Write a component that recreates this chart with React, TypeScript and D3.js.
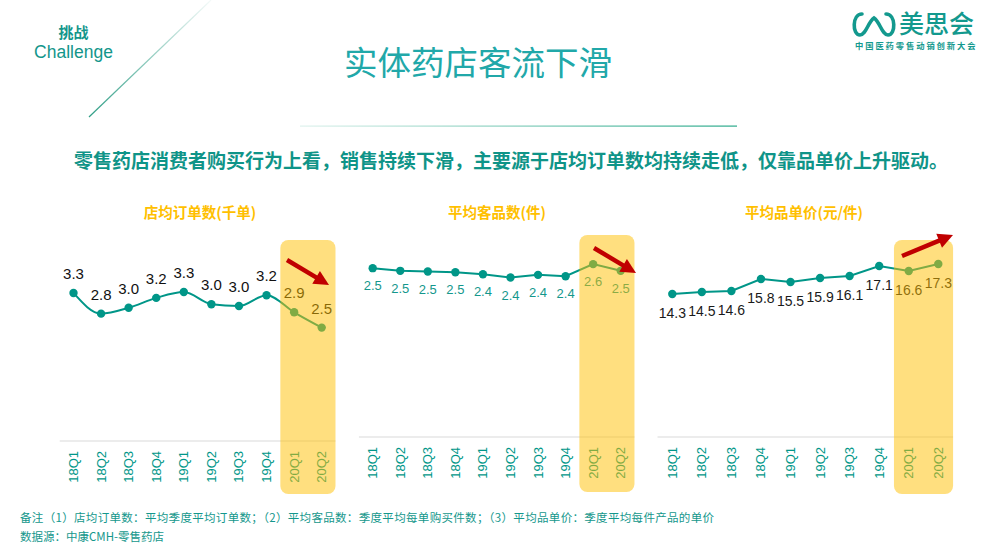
import React from 'react'
import * as d3 from 'd3'

const quarters = ['18Q1', '18Q2', '18Q3', '18Q4', '19Q1', '19Q2', '19Q3', '19Q4', '20Q1', '20Q2']
const highlighted = ['20Q1', '20Q2']

// 店均订单数(千单)
const ordersPerStore = [3.29, 2.83, 2.96, 3.18, 3.31, 3.04, 3.0, 3.24, 2.86, 2.52]
// 平均客品数(件)
const itemsPerOrder = [2.52, 2.48, 2.47, 2.46, 2.43, 2.38, 2.42, 2.4, 2.58, 2.48]
// 平均品单价(元/件)
const unitPrice = [14.3, 14.5, 14.6, 15.8, 15.5, 15.9, 16.1, 17.1, 16.6, 17.3]

const chartTitles = ['店均订单数(千单)', '平均客品数(件)', '平均品单价(元/件)']

const TEAL = '#009688'
const GOLD = '#FFC000'
const RED = '#C00000'
const LATIN = '"Liberation Sans", Arial, "Noto Sans CJK SC", sans-serif'
const CJK = '"Noto Sans CJK SC", "Liberation Sans", sans-serif'

interface PanelProps {
  title: string
  values: number[]
  xRange: [number, number]
  yDomain: [number, number]
  yRange: [number, number]
  titleX: number
  labelDy: number
  labelSize: number
  labelColor: string
  smooth: boolean
  boxTop: number
  boxBottom: number
  arrow: [number, number, number, number]
}

const Arrow = ({ arrow }: { arrow: [number, number, number, number] }) => {
  const [x1, y1, x2, y2] = arrow
  const ang = Math.atan2(y2 - y1, x2 - x1)
  const head = 15
  const half = 7.5
  const bx = x2 - head * Math.cos(ang)
  const by = y2 - head * Math.sin(ang)
  const px = -Math.sin(ang) * half
  const py = Math.cos(ang) * half
  return (
    <g>
      <line x1={x1} y1={y1} x2={bx + 2 * Math.cos(ang)} y2={by + 2 * Math.sin(ang)} stroke={RED} strokeWidth={4.5} />
      <polygon points={`${x2},${y2} ${bx + px},${by + py} ${bx - px},${by - py}`} fill={RED} />
    </g>
  )
}

const Panel = (p: PanelProps) => {
  const x = d3.scalePoint<string>().domain(quarters).range(p.xRange)
  const y = d3.scaleLinear().domain(p.yDomain).range(p.yRange)
  const step = x.step()
  const axisY = p.yRange[0]
  const line = d3
    .line<number>()
    .x((_, i) => x(quarters[i]) as number)
    .y((d) => y(d))
    .curve(p.smooth ? d3.curveMonotoneX : d3.curveLinear)

  const boxX0 = (x(highlighted[0]) as number) - step / 2
  const boxX1 = (x(highlighted[highlighted.length - 1]) as number) + step / 2

  return (
    <g>
      <text x={p.titleX} y={218} textAnchor="middle" fontFamily={CJK} fontWeight={700} fontSize={14.5} fill={GOLD}>
        {p.title}
      </text>
      <line x1={p.xRange[0] - step / 2} x2={boxX1} y1={axisY} y2={axisY} stroke="#d9d9d9" strokeWidth={1} />
      {quarters.map((q) => (
        <text
          key={q}
          transform={`translate(${(x(q) as number) + 4.5},${axisY + 10}) rotate(-90)`}
          textAnchor="end"
          fontFamily={LATIN}
          fontSize={13}
          fill={TEAL}
        >
          {q}
        </text>
      ))}
      <path d={line(p.values) || ''} fill="none" stroke={TEAL} strokeWidth={2} />
      {p.values.map((v, i) => (
        <circle key={i} cx={x(quarters[i])} cy={y(v)} r={4.2} fill={TEAL} />
      ))}
      {p.values.map((v, i) => (
        <text
          key={'l' + i}
          x={x(quarters[i])}
          y={y(v) + p.labelDy}
          textAnchor="middle"
          fontFamily={LATIN}
          fontSize={p.labelSize}
          fill={p.labelColor}
        >
          {v.toFixed(1)}
        </text>
      ))}
      <rect
        x={boxX0}
        y={p.boxTop}
        width={boxX1 - boxX0}
        height={p.boxBottom - p.boxTop}
        rx={8}
        fill={GOLD}
        fillOpacity={0.5}
      />
      <Arrow arrow={p.arrow} />
    </g>
  )
}

const panels: PanelProps[] = [
  {
    title: chartTitles[0],
    values: ordersPerStore,
    xRange: [73.5, 321.7],
    yDomain: [0, 4],
    yRange: [441, 261],
    titleX: 200,
    labelDy: -14,
    labelSize: 15,
    labelColor: '#111',
    smooth: true,
    boxTop: 240,
    boxBottom: 494,
    arrow: [287, 260, 329, 285],
  },
  {
    title: chartTitles[1],
    values: itemsPerOrder,
    xRange: [372.7, 620.7],
    yDomain: [0, 3],
    yRange: [437, 236],
    titleX: 497,
    labelDy: 22,
    labelSize: 13,
    labelColor: '#14978c',
    smooth: false,
    boxTop: 235,
    boxBottom: 492,
    arrow: [594, 248, 636, 273],
  },
  {
    title: chartTitles[2],
    values: unitPrice,
    xRange: [672.3, 938.3],
    yDomain: [0, 20],
    yRange: [437, 237],
    titleX: 804,
    labelDy: 23.5,
    labelSize: 14,
    labelColor: '#1a1a1a',
    smooth: false,
    boxTop: 240,
    boxBottom: 494,
    arrow: [902, 256, 953, 235],
  },
]

const Logo = () => (
  <g>
    <path
      d="M862,14 C852,14 852,35 860,35 C866,35 868,22 874,18 C880,22 882,35 888,35 C896,35 896,14 886,14"
      fill="none"
      stroke="#13998e"
      strokeWidth={3.6}
      strokeLinecap="round"
    />
    <text x={899} y={33} fontFamily={CJK} fontSize={25} fontWeight={500} fill="#13998e">
      美思会
    </text>
    <text x={855} y={49} fontFamily={CJK} fontSize={8.3} fontWeight={700} letterSpacing={1.9} fill="#13998e">
      中国医药零售动销创新大会
    </text>
  </g>
)

export default function App() {
  return (
    <svg width={999} height={552} style={{ position: 'absolute', left: 0, top: 0, background: '#fff' }}>
      <defs>
        <linearGradient id="diag" x1="0" y1="1" x2="1" y2="0">
          <stop offset="0" stopColor="#2f9e86" />
          <stop offset="1" stopColor="#2f9e86" stopOpacity={0.05} />
        </linearGradient>
        <linearGradient id="under" x1="0" y1="0" x2="1" y2="0">
          <stop offset="0" stopColor="#2aa98a" stopOpacity={0.15} />
          <stop offset="1" stopColor="#2aa98a" />
        </linearGradient>
      </defs>
      <rect width={999} height={552} fill="#fff" />
      <text x={73.5} y={38} textAnchor="middle" fontFamily={CJK} fontWeight={700} fontSize={15} fill="#13968b">
        挑战
      </text>
      <text x={73.5} y={57.5} textAnchor="middle" fontFamily={LATIN} fontSize={17.5} fill="#13968b">
        Challenge
      </text>
      <line x1={89} y1={117} x2={211} y2={0} stroke="url(#diag)" strokeWidth={1.2} />
      <Logo />
      <text x={478} y={75} textAnchor="middle" fontFamily={CJK} fontSize={33.5} fill="#21a8a9">
        实体药店客流下滑
      </text>
      <rect x={300} y={125.5} width={437} height={1.2} fill="url(#under)" />
      <text x={511} y={168} textAnchor="middle" fontFamily={CJK} fontWeight={700} fontSize={19} fill="#0f9488">
        零售药店消费者购买行为上看，销售持续下滑，主要源于店均订单数均持续走低，仅靠品单价上升驱动。
      </text>
      {panels.map((p) => (
        <Panel key={p.title} {...p} />
      ))}
      <text x={20} y={522} fontFamily={CJK} fontSize={11.5} fill="#14978c" textLength={694} lengthAdjust="spacing">
        备注（1）店均订单数：平均季度平均订单数；（2）平均客品数：季度平均每单购买件数；（3）平均品单价：季度平均每件产品的单价
      </text>
      <text x={20} y={541} fontFamily={CJK} fontSize={11.5} fill="#14978c">
        数据源：中康CMH-零售药店
      </text>
    </svg>
  )
}
